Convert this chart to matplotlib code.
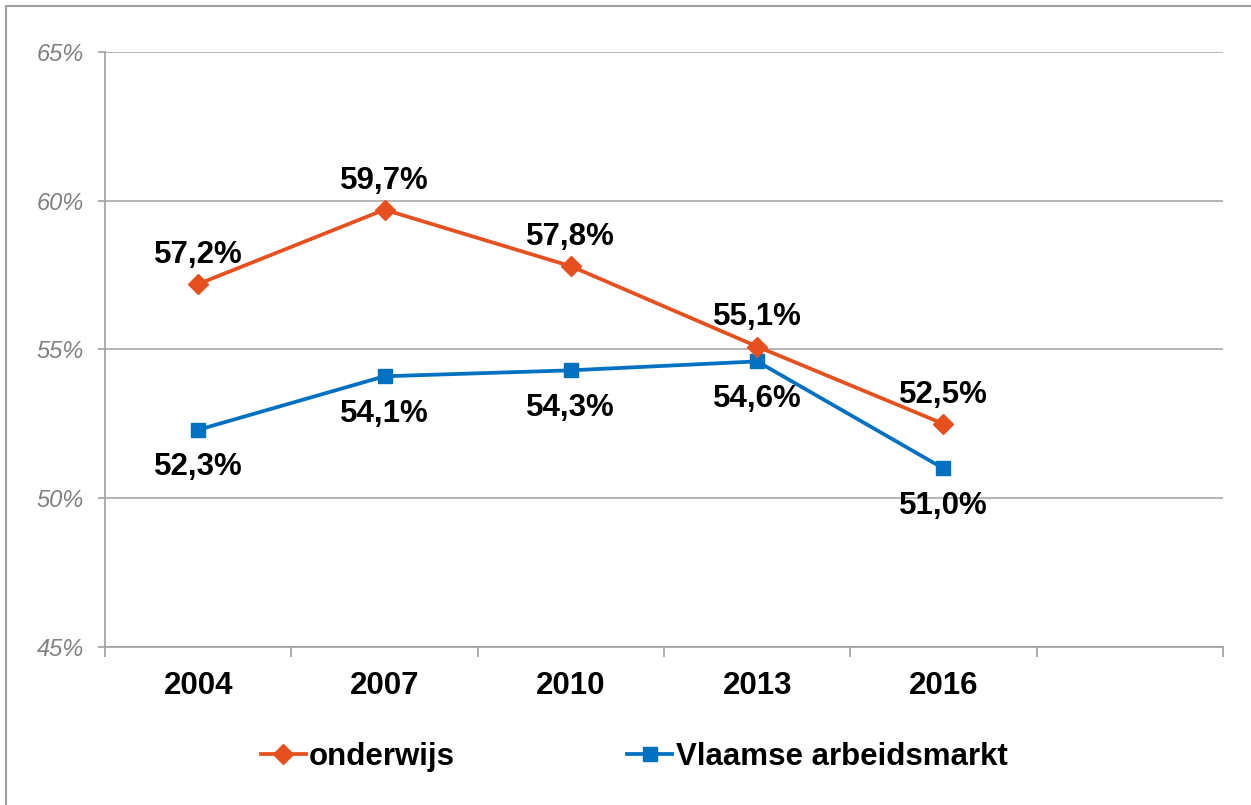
import matplotlib
matplotlib.use("Agg")
import matplotlib.pyplot as plt
from matplotlib.patches import Rectangle

# ---------- data ----------
years = ["2004", "2007", "2010", "2013", "2016"]
onderwijs = [57.2, 59.7, 57.8, 55.1, 52.5]
vlaams = [52.3, 54.1, 54.3, 54.6, 51.0]
y_ticks = [45, 50, 55, 60, 65]
n_slots = 6  # category axis has one empty slot at the end

ORANGE = "#E5501E"
BLUE = "#0070C0"
GRID = "#A0A0A0"

plt.rcParams["font.family"] = ["Liberation Sans", "DejaVu Sans"]

fig = plt.figure(figsize=(12.51, 8.05), dpi=100)
ax = fig.add_axes([105 / 1251, 1 - 647 / 805, (1223 - 105) / 1251, (647 - 52) / 805])

x = list(range(len(years)))
ax.plot(x, onderwijs, color=ORANGE, lw=2.7, marker="D", ms=10,
        label="onderwijs", zorder=4)
ax.plot(x, vlaams, color=BLUE, lw=2.7, marker="s", ms=10.5,
        label="Vlaamse arbeidsmarkt", zorder=3)

# data labels
for xi, v in zip(x, onderwijs):
    ax.annotate(f"{v:.1f}%".replace(".", ","), (xi, v), xytext=(0, 21),
                textcoords="offset points", ha="center", va="center",
                fontsize=22.5, fontweight="bold")
for xi, v in zip(x, vlaams):
    ax.annotate(f"{v:.1f}%".replace(".", ","), (xi, v), xytext=(0, -27),
                textcoords="offset points", ha="center", va="center",
                fontsize=22.5, fontweight="bold")

# axes
ax.set_xlim(-0.5, n_slots - 0.5)
ax.set_ylim(45, 65)
ax.set_yticks(y_ticks)
ax.set_yticklabels([f"{t}%" for t in y_ticks], fontsize=17, style="italic",
                   color="#808080")
ax.set_xticks(x)
ax.set_xticklabels(years, fontsize=22.5, fontweight="bold")
ax.set_xticks([i - 0.5 for i in range(n_slots + 1)], minor=True)
ax.tick_params(axis="x", which="major", length=0, pad=17)
ax.tick_params(axis="x", which="minor", length=7, width=1.2, color=GRID)
ax.tick_params(axis="y", length=5, width=1.2, color=GRID, pad=10)

ax.grid(axis="y", color=GRID, lw=1.1)
ax.set_axisbelow(True)
for side in ["top", "right"]:
    ax.spines[side].set_visible(False)
for side in ["left", "bottom"]:
    ax.spines[side].set_color(GRID)
    ax.spines[side].set_linewidth(1.2)

# legend
fig.legend(loc="center", bbox_to_anchor=(634 / 1251, 1 - 757 / 805), ncol=2,
           frameon=False, prop={"size": 22.5, "weight": "bold"},
           handlelength=1.45, handletextpad=0.1, columnspacing=5.5,
           borderpad=0)

# outer frame
fig.patches.append(Rectangle((6 / 1251, -0.05), 1.1, 1 - 6 / 805 + 0.05,
                             transform=fig.transFigure, fill=False,
                             edgecolor=GRID, lw=1.5))

fig.savefig("out.png", dpi=100)
